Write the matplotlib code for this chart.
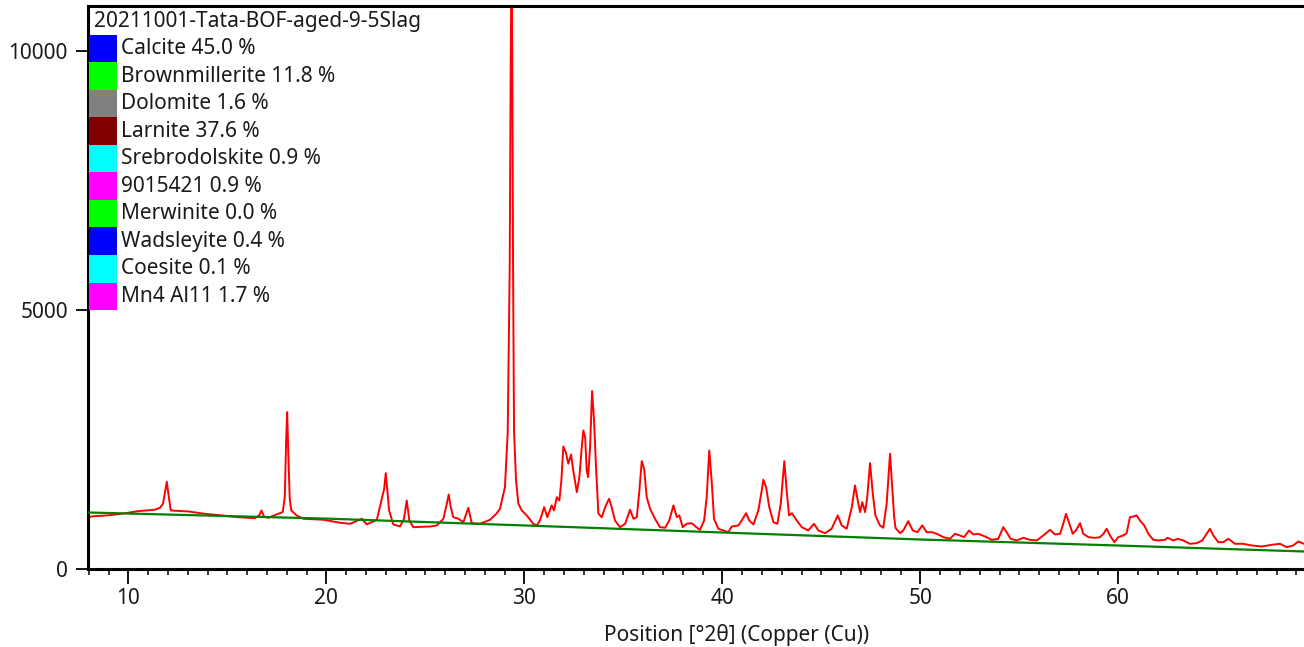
import matplotlib
matplotlib.use("Agg")
import matplotlib.pyplot as plt
from matplotlib.patches import Rectangle
from matplotlib.ticker import MultipleLocator, FixedLocator

plt.rcParams['font.family'] = ['Noto Sans', 'DejaVu Sans']

# ---------------- data ----------------
two_theta = [7.96, 8.3, 8.8, 9.2, 9.65, 10.49, 11.33, 11.59, 11.75, 11.87, 11.94, 12.02, 12.14,
             13.02, 13.86, 14.70, 15.54, 16.38, 16.62, 16.72, 16.85, 17.06, 17.56, 17.8, 17.9,
             17.97, 18.02, 18.08, 18.15, 18.23, 18.5, 18.84, 19.85, 20.69, 21.2, 21.79, 22.04,
             22.55, 22.8, 22.92, 23.0, 23.08, 23.17, 23.38, 23.72, 23.92, 24.06, 24.19, 24.39,
             25.24, 25.58, 25.91, 26.08, 26.18, 26.28, 26.41, 26.67, 26.92, 27.17, 27.34, 27.76,
             28.27, 28.61, 28.77, 29.02, 29.16, 29.26, 29.31, 29.355, 29.39, 29.43, 29.48, 29.58,
             29.70, 29.87, 30.12, 30.45, 30.63, 30.79, 31.0, 31.16, 31.38, 31.5, 31.64, 31.77,
             31.87, 31.97, 32.09, 32.22, 32.36, 32.47, 32.65, 32.78, 32.9, 32.98, 33.07, 33.15,
             33.22, 33.32, 33.42, 33.52, 33.62, 33.74, 33.91, 34.08, 34.28, 34.41, 34.58, 34.83,
             35.09, 35.34, 35.51, 35.68, 35.81, 35.93, 36.05, 36.18, 36.35, 36.6, 36.85, 37.11,
             37.32, 37.53, 37.7, 37.83, 38.0, 38.2, 38.45, 38.71, 38.87, 39.08, 39.21, 39.34,
             39.46, 39.58, 39.8, 40.05, 40.3, 40.48, 40.81, 40.98, 41.2, 41.36, 41.57, 41.82,
             41.99, 42.07, 42.21, 42.37, 42.58, 42.78, 42.95, 43.13, 43.25, 43.37, 43.51, 43.76,
             44.01, 44.34, 44.63, 44.85, 45.19, 45.52, 45.83, 46.03, 46.28, 46.54, 46.7, 46.87,
             46.96, 47.07, 47.21, 47.32, 47.46, 47.6, 47.73, 47.96, 48.13, 48.3, 48.47, 48.6,
             48.68, 48.75, 48.98, 49.14, 49.39, 49.62, 49.85, 50.1, 50.32, 50.58, 50.83, 51.17,
             51.5, 51.75, 52.0, 52.21, 52.46, 52.68, 52.93, 53.27, 53.61, 53.94, 54.19, 54.36,
             54.56, 54.87, 55.2, 55.54, 55.88, 56.21, 56.55, 56.8, 57.06, 57.22, 57.36, 57.53,
             57.7, 57.86, 58.07, 58.23, 58.49, 58.82, 59.07, 59.25, 59.41, 59.58, 59.8, 60.0,
             60.25, 60.42, 60.59, 60.76, 60.93, 61.09, 61.31, 61.52, 61.77, 62.02, 62.36, 62.49,
             62.78, 63.0, 63.28, 63.62, 63.96, 64.24, 64.46, 64.63, 64.8, 65.05, 65.3, 65.56,
             65.89, 66.31, 66.74, 67.24, 67.75, 68.17, 68.51, 68.84, 69.09, 69.38]
counts = [1000, 1020, 1030, 1045, 1065, 1116, 1143, 1180, 1260, 1520, 1683, 1450, 1129,
          1110, 1065, 1033, 1000, 980, 1040, 1129, 1010, 988, 1065, 1100, 1400,
          2500, 3026, 2200, 1350, 1129, 1033, 969, 950, 892, 872, 969, 859,
          950, 1355, 1550, 1849, 1500, 1129, 859, 820, 969, 1322, 936, 807,
          820, 840, 969, 1250, 1438, 1200, 1000, 969, 903, 1181, 884, 872,
          950, 1077, 1162, 1579, 2640, 5800, 9680, 12000, 9680, 5800, 2650, 1708,
          1258, 1129, 1033, 872, 840, 936, 1193, 1000, 1226, 1129, 1386, 1322,
          1708, 2364, 2255, 2030, 2210, 1901, 1482, 1772, 2351, 2673, 2544, 1901,
          1772, 2351, 3432, 2866, 1965, 1065, 1000, 1193, 1355, 1193, 936, 807,
          872, 1143, 969, 1000, 1515, 2081, 1934, 1386, 1162, 969, 807, 795,
          936, 1226, 1000, 1033, 807, 872, 884, 800, 756, 936, 1386, 2287,
          1708, 969, 776, 743, 710, 820, 840, 936, 1077, 936, 859, 1129,
          1515, 1722, 1579, 1193, 903, 872, 1258, 2081, 1515, 1033, 1077, 936,
          807, 743, 872, 743, 691, 776, 1033, 840, 776, 1193, 1612, 1258,
          1097, 1290, 1097, 1386, 2042, 1451, 1033, 840, 795, 1258, 2223, 1450,
          1000, 790, 691, 743, 923, 743, 710, 840, 710, 710, 679, 614,
          583, 679, 647, 614, 743, 666, 679, 627, 563, 583, 807, 710,
          583, 550, 602, 563, 550, 647, 756, 666, 679, 872, 1065, 872,
          679, 743, 884, 679, 614, 600, 614, 679, 776, 647, 517, 614,
          647, 691, 1000, 1013, 1033, 936, 840, 679, 563, 550, 563, 602,
          550, 583, 550, 486, 499, 550, 679, 776, 647, 517, 517, 583,
          486, 486, 454, 434, 467, 486, 421, 454, 531, 486]

bg_two_theta = [7.96, 20.0, 30.0, 40.0, 50.0, 60.0, 69.38]
bg_counts = [1090, 972, 840, 704, 569, 453, 338]

sample_name = "20211001-Tata-BOF-aged-9-5Slag"
phase_names = ["Calcite", "Brownmillerite", "Dolomite", "Larnite", "Srebrodolskite",
               "9015421", "Merwinite", "Wadsleyite", "Coesite", "Mn4 Al11"]
phase_pcts = [45.0, 11.8, 1.6, 37.6, 0.9, 0.9, 0.0, 0.4, 0.1, 1.7]
phase_colors = ["#0000ff", "#00ff00", "#808080", "#800000", "#00ffff",
                "#ff00ff", "#00ff00", "#0000ff", "#00ffff", "#ff00ff"]

x_major = [10, 20, 30, 40, 50, 60]
y_major = [0, 5000, 10000]
x_label = "Position [°2θ] (Copper (Cu))"

FS = 15

# ---------------- figure ----------------
W, H = 1304, 647
fig = plt.figure(figsize=(W / 100, H / 100), dpi=100)
ax = fig.add_axes([88 / W, 1 - 569 / H, (W - 88) / W + 0.01, (569 - 6) / H])

ax.plot(two_theta, counts, color="#ff0000", lw=1.4, zorder=2)
ax.plot(bg_two_theta, bg_counts, color="#008000", lw=1.6, zorder=3)

ax.set_xlim(7.96, 69.38 + (0.01 * W) / 19.8)
ax.set_ylim(0, 10860)

for s in ["left", "top", "bottom"]:
    ax.spines[s].set_linewidth(2.2)
    ax.spines[s].set_color("black")
ax.spines["right"].set_visible(False)

ax.xaxis.set_major_locator(FixedLocator(x_major))
ax.xaxis.set_minor_locator(MultipleLocator(1))
ax.yaxis.set_major_locator(FixedLocator(y_major))
ax.tick_params(axis="x", which="major", direction="out", length=11, width=1.3,
               labelsize=FS, pad=3, top=False)
ax.tick_params(axis="x", which="minor", direction="out", length=4.5, width=1.1, top=False)
ax.tick_params(axis="y", which="major", direction="out", length=9, width=1.3,
               labelsize=FS, pad=5.5, right=False)
ax.set_xticklabels([str(v) for v in x_major])
ax.set_yticklabels([str(v) for v in y_major])
for lab in ax.get_xticklabels() + ax.get_yticklabels():
    lab.set_color("#1a1a1a")

ax.set_xlabel(x_label, fontsize=FS, color="#1a1a1a")
ax.xaxis.set_label_coords((737 - 88) / (W - 88 + 0.01 * W), -0.098)

# ---------------- legend (drawn manually) ----------------
def fx(px):
    return px / W

def fy(py):
    return 1 - py / H

fig.text(fx(94), fy(22), sample_name, fontsize=FS, va="center", ha="left", color="#1a1a1a")
row_h = 27.5
for i, (nm, pc, col) in enumerate(zip(phase_names, phase_pcts, phase_colors)):
    top = 35 + row_h * i
    rect = Rectangle((fx(89), fy(top + row_h)), fx(117) - fx(89), row_h / H,
                     transform=fig.transFigure, facecolor=col, edgecolor="none", zorder=5)
    fig.add_artist(rect)
    fig.text(fx(121), fy(top + row_h / 2), f"{nm} {pc:.1f} %", fontsize=FS,
             va="center", ha="left", color="#1a1a1a", zorder=6)

fig.savefig("out.png", dpi=100)
